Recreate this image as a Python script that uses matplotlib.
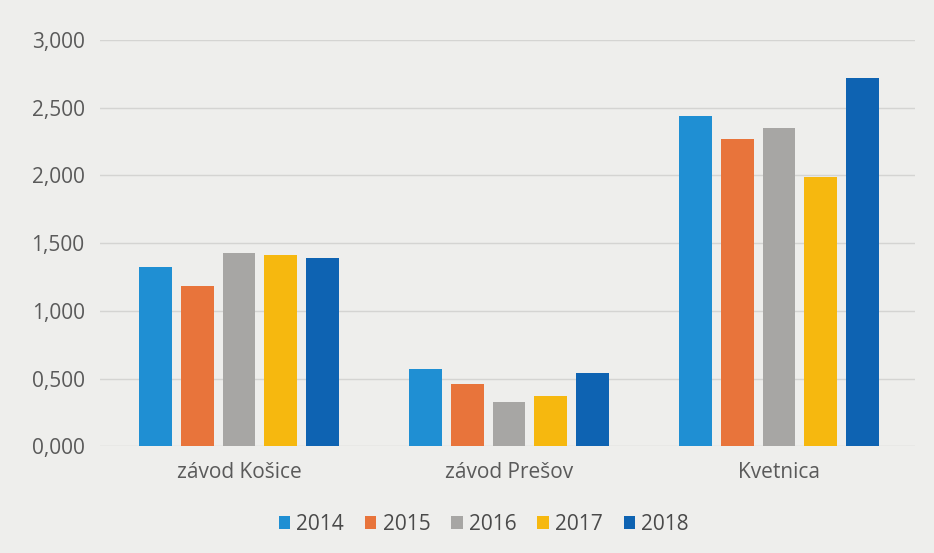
import matplotlib
matplotlib.use("Agg")
import matplotlib.pyplot as plt
from matplotlib.ticker import FuncFormatter, MultipleLocator
import numpy as np

categories = ["závod Košice", "závod Prešov", "Kvetnica"]
years = ["2014", "2015", "2016", "2017", "2018"]
v2014 = [1.32, 0.57, 2.44]
v2015 = [1.18, 0.46, 2.27]
v2016 = [1.43, 0.33, 2.35]
v2017 = [1.41, 0.37, 1.99]
v2018 = [1.39, 0.54, 2.72]
series = [v2014, v2015, v2016, v2017, v2018]
colors = ["#1f8fd3", "#e8743b", "#a7a6a4", "#f6b80f", "#0e63b2"]

plt.rcParams['font.family'] = ['Open Sans', 'DejaVu Sans']
bg = "#eeeeec"
fig = plt.figure(figsize=(9.34, 5.53), dpi=100, facecolor=bg)
ax = fig.add_axes([0.107, 0.193, 0.873, 0.735])
ax.set_facecolor(bg)

x = np.arange(len(categories))
step = 0.155
width = 0.122
for i, (vals, c, y) in enumerate(zip(series, colors, years)):
    ax.bar(x + (i - 2) * step, vals, width=width, color=c, label=y, zorder=3)

ax.set_xlim(-0.515, 2.505)
ax.set_ylim(0, 3.0)
ax.yaxis.set_major_locator(MultipleLocator(0.5))
ax.yaxis.set_major_formatter(FuncFormatter(lambda v, p: f"{v:.3f}".replace('.', ',')))
ax.grid(axis='y', color='#d4d4d2', linewidth=1.0, zorder=0)
for s in ax.spines.values():
    s.set_visible(False)
ax.tick_params(axis='both', length=0, colors='#5a5a5a', labelsize=15)
ax.tick_params(axis='y', pad=11)
ax.tick_params(axis='x', pad=11)
ax.set_xticks(x)
ax.set_xticklabels(categories)

leg = fig.legend(loc='center', bbox_to_anchor=(0.518, 0.052), ncol=5, frameon=False,
                 fontsize=15, handlelength=0.55, handleheight=0.55, handletextpad=0.3,
                 columnspacing=1.0)
for t in leg.get_texts():
    t.set_color('#4a4a4a')

fig.savefig("out.png", dpi=100, facecolor=bg)
